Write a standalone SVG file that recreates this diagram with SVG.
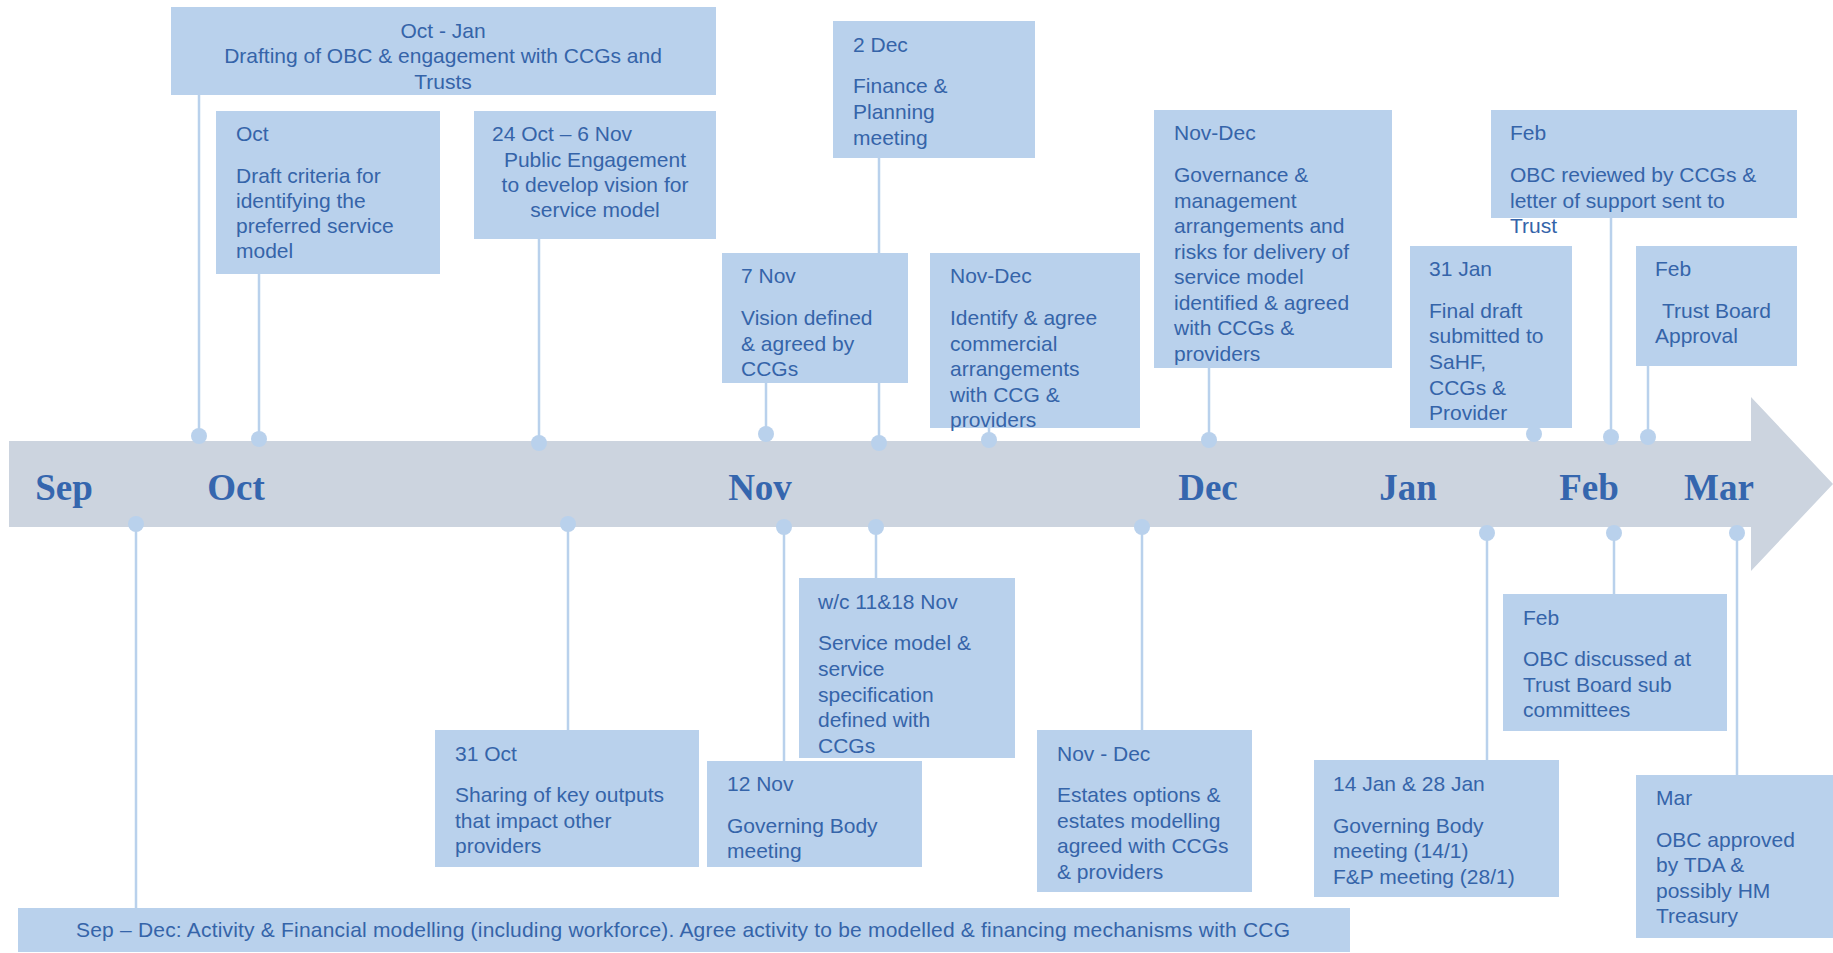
<svg xmlns="http://www.w3.org/2000/svg" width="1833" height="953" viewBox="0 0 1833 953">
<style>
.box{fill:#B9D1EC}
.t{font-family:"Liberation Sans",Arial,sans-serif;font-size:21px;fill:#3564A9}
.c{text-anchor:middle}
.m{font-family:"Liberation Serif","Times New Roman",serif;font-size:37px;font-weight:bold;fill:#3566AE;text-anchor:middle}
.ln{stroke:#B9D1EC;stroke-width:2.5;fill:none}
.dot{fill:#B9D1EC}
</style>
<rect width="1833" height="953" fill="#FFFFFF"/>
<g id="timeline">
<polygon points="9,441 1751,441 1751,397 1833,484 1751,571 1751,527 9,527" fill="#CCD4DF"/>
<text class="m" x="64" y="500">Sep</text>
<text class="m" x="236" y="500">Oct</text>
<text class="m" x="760" y="500">Nov</text>
<text class="m" x="1208" y="500">Dec</text>
<text class="m" x="1408" y="500">Jan</text>
<text class="m" x="1589" y="500">Feb</text>
<text class="m" x="1719" y="500">Mar</text>
</g>
<g id="connectors">
<path class="ln" d="M199,95V436M259,274V439M539,239V443M766,383V434M879,158V443M989,428V440M1209,368V440M1534,428V434M1611,218V437M1648,366V437"/>
<path class="ln" d="M136,524V908M568,524V730M784,527V761M876,527V578M1142,527V730M1487,533V760M1614,533V594M1737,533V775"/>
<circle class="dot" cx="199" cy="436" r="8"/>
<circle class="dot" cx="259" cy="439" r="8"/>
<circle class="dot" cx="539" cy="443" r="8"/>
<circle class="dot" cx="766" cy="434" r="8"/>
<circle class="dot" cx="879" cy="443" r="8"/>
<circle class="dot" cx="989" cy="440" r="8"/>
<circle class="dot" cx="1209" cy="440" r="8"/>
<circle class="dot" cx="1534" cy="434" r="8"/>
<circle class="dot" cx="1611" cy="437" r="8"/>
<circle class="dot" cx="1648" cy="437" r="8"/>
<circle class="dot" cx="136" cy="524" r="8"/>
<circle class="dot" cx="568" cy="524" r="8"/>
<circle class="dot" cx="784" cy="527" r="8"/>
<circle class="dot" cx="876" cy="527" r="8"/>
<circle class="dot" cx="1142" cy="527" r="8"/>
<circle class="dot" cx="1487" cy="533" r="8"/>
<circle class="dot" cx="1614" cy="533" r="8"/>
<circle class="dot" cx="1737" cy="533" r="8"/>
</g>
<g id="n-octjan">
<rect class="box" x="171" y="7" width="545" height="88"/>
<text class="t c" x="443" y="38">Oct - Jan</text>
<text class="t c" x="443" y="63">Drafting of OBC &amp; engagement with CCGs and</text>
<text class="t c" x="443" y="89">Trusts</text>
</g>
<g id="n-oct">
<rect class="box" x="216" y="111" width="224" height="163"/>
<text class="t" x="236" y="141">Oct</text>
<text class="t" x="236" y="183">Draft criteria for</text>
<text class="t" x="236" y="208">identifying the</text>
<text class="t" x="236" y="233">preferred service</text>
<text class="t" x="236" y="258">model</text>
</g>
<g id="n-24oct">
<rect class="box" x="474" y="111" width="242" height="128"/>
<text class="t" x="492" y="141">24 Oct – 6 Nov</text>
<text class="t c" x="595" y="167">Public Engagement</text>
<text class="t c" x="595" y="192">to develop vision for</text>
<text class="t c" x="595" y="217">service model</text>
</g>
<g id="n-2dec">
<rect class="box" x="833" y="21" width="202" height="137"/>
<text class="t" x="853" y="52">2 Dec</text>
<text class="t" x="853" y="93">Finance &amp;</text>
<text class="t" x="853" y="119">Planning</text>
<text class="t" x="853" y="145">meeting</text>
</g>
<g id="n-7nov">
<rect class="box" x="722" y="253" width="186" height="130"/>
<text class="t" x="741" y="283">7 Nov</text>
<text class="t" x="741" y="325">Vision defined</text>
<text class="t" x="741" y="351">&amp; agreed by</text>
<text class="t" x="741" y="376">CCGs</text>
</g>
<g id="n-novdec-commercial">
<rect class="box" x="930" y="253" width="210" height="175"/>
<text class="t" x="950" y="283">Nov-Dec</text>
<text class="t" x="950" y="325">Identify &amp; agree</text>
<text class="t" x="950" y="351">commercial</text>
<text class="t" x="950" y="376">arrangements</text>
<text class="t" x="950" y="402">with CCG &amp;</text>
<text class="t" x="950" y="427">providers</text>
</g>
<g id="n-novdec-governance">
<rect class="box" x="1154" y="110" width="238" height="258"/>
<text class="t" x="1174" y="140">Nov-Dec</text>
<text class="t" x="1174" y="182">Governance &amp;</text>
<text class="t" x="1174" y="208">management</text>
<text class="t" x="1174" y="233">arrangements and</text>
<text class="t" x="1174" y="259">risks for delivery of</text>
<text class="t" x="1174" y="284">service model</text>
<text class="t" x="1174" y="310">identified &amp; agreed</text>
<text class="t" x="1174" y="335">with CCGs &amp;</text>
<text class="t" x="1174" y="361">providers</text>
</g>
<g id="n-feb-obc-reviewed">
<rect class="box" x="1491" y="110" width="306" height="108"/>
<text class="t" x="1510" y="140">Feb</text>
<text class="t" x="1510" y="182">OBC reviewed by CCGs &amp;</text>
<text class="t" x="1510" y="208">letter of support sent to</text>
<text class="t" x="1510" y="233">Trust</text>
</g>
<g id="n-31jan">
<rect class="box" x="1410" y="246" width="162" height="182"/>
<text class="t" x="1429" y="276">31 Jan</text>
<text class="t" x="1429" y="318">Final draft</text>
<text class="t" x="1429" y="343">submitted to</text>
<text class="t" x="1429" y="369">SaHF,</text>
<text class="t" x="1429" y="395">CCGs &amp;</text>
<text class="t" x="1429" y="420">Provider</text>
</g>
<g id="n-feb-trust-board">
<rect class="box" x="1636" y="246" width="161" height="120"/>
<text class="t" x="1655" y="276">Feb</text>
<text class="t" x="1662" y="318">Trust Board</text>
<text class="t" x="1655" y="343">Approval</text>
</g>
<g id="n-31oct">
<rect class="box" x="435" y="730" width="264" height="137"/>
<text class="t" x="455" y="761">31 Oct</text>
<text class="t" x="455" y="802">Sharing of key outputs</text>
<text class="t" x="455" y="828">that impact other</text>
<text class="t" x="455" y="853">providers</text>
</g>
<g id="n-wc">
<rect class="box" x="799" y="578" width="216" height="180"/>
<text class="t" x="818" y="609">w/c 11&amp;18 Nov</text>
<text class="t" x="818" y="650">Service model &amp;</text>
<text class="t" x="818" y="676">service</text>
<text class="t" x="818" y="702">specification</text>
<text class="t" x="818" y="727">defined with</text>
<text class="t" x="818" y="753">CCGs</text>
</g>
<g id="n-12nov">
<rect class="box" x="707" y="761" width="215" height="106"/>
<text class="t" x="727" y="791">12 Nov</text>
<text class="t" x="727" y="833">Governing Body</text>
<text class="t" x="727" y="858">meeting</text>
</g>
<g id="n-estates">
<rect class="box" x="1037" y="730" width="215" height="162"/>
<text class="t" x="1057" y="761">Nov - Dec</text>
<text class="t" x="1057" y="802">Estates options &amp;</text>
<text class="t" x="1057" y="828">estates modelling</text>
<text class="t" x="1057" y="853">agreed with CCGs</text>
<text class="t" x="1057" y="879">&amp; providers</text>
</g>
<g id="n-jan">
<rect class="box" x="1314" y="760" width="245" height="137"/>
<text class="t" x="1333" y="791">14 Jan &amp; 28 Jan</text>
<text class="t" x="1333" y="833">Governing Body</text>
<text class="t" x="1333" y="858">meeting (14/1)</text>
<text class="t" x="1333" y="884">F&amp;P meeting (28/1)</text>
</g>
<g id="n-feb-sub">
<rect class="box" x="1503" y="594" width="224" height="137"/>
<text class="t" x="1523" y="625">Feb</text>
<text class="t" x="1523" y="666">OBC discussed at</text>
<text class="t" x="1523" y="692">Trust Board sub</text>
<text class="t" x="1523" y="717">committees</text>
</g>
<g id="n-mar">
<rect class="box" x="1636" y="775" width="197" height="163"/>
<text class="t" x="1656" y="805">Mar</text>
<text class="t" x="1656" y="847">OBC approved</text>
<text class="t" x="1656" y="872">by TDA &amp;</text>
<text class="t" x="1656" y="898">possibly HM</text>
<text class="t" x="1656" y="923">Treasury</text>
</g>
<g id="n-sepdec">
<rect class="box" x="18" y="908" width="1332" height="44"/>
<text class="t c" x="683" y="937" textLength="1214" lengthAdjust="spacing">Sep – Dec: Activity &amp; Financial modelling (including workforce). Agree activity to be modelled &amp; financing mechanisms with CCG</text>
</g>
</svg>
